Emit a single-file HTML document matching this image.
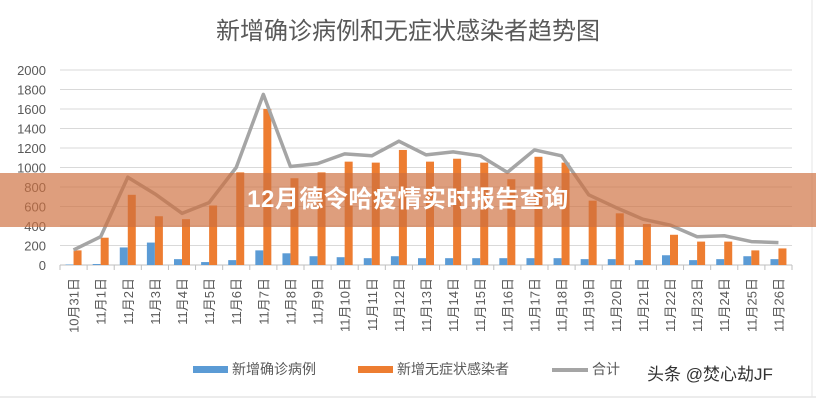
<!DOCTYPE html>
<html><head><meta charset="utf-8"><style>
html,body{margin:0;padding:0;background:#fff;}
body{width:816px;height:400px;overflow:hidden;position:relative;font-family:"Liberation Sans","Noto Sans CJK SC",sans-serif;}
#banner{position:absolute;left:0;top:173px;width:816px;height:54px;background:rgba(206,112,64,0.68);color:#fff;font-weight:bold;font-size:24px;text-align:center;line-height:54px;letter-spacing:0.5px;}
</style></head><body>
<svg id="chart" width="816" height="400" style="position:absolute;left:0;top:0" font-family="Liberation Sans, Noto Sans CJK SC, sans-serif">
<line x1="0" y1="397" x2="816" y2="397" stroke="#d9d9d9"/>
<line x1="812" y1="0" x2="812" y2="397" stroke="#e6e6e6"/>
<text x="408" y="39" text-anchor="middle" font-size="24" fill="#595959">新增确诊病例和无症状感染者趋势图</text>
<g id="grid"></g><g id="bars"></g><g id="line"></g><g id="xlabels"></g><g id="ylabels"></g>
<g>
<rect x="193" y="366" width="35" height="7" fill="#5b9bd5"/>
<text x="232" y="374" font-size="14" fill="#595959">新增确诊病例</text>
<rect x="358" y="366" width="35" height="7" fill="#ed7d31"/>
<text x="397" y="374" font-size="14" fill="#595959">新增无症状感染者</text>
<line x1="552" y1="370" x2="588" y2="370" stroke="#a5a5a5" stroke-width="4"/>
<text x="592" y="374" font-size="14" fill="#595959">合计</text>
</g>
<text x="647" y="380" font-size="17" fill="#333">头条 @焚心劫JF</text>
</svg>
<div id="banner">12月德令哈疫情实时报告查询</div>
<script>
const categories=["10月31日","11月1日","11月2日","11月3日","11月4日","11月5日","11月6日","11月7日","11月8日","11月9日","11月10日","11月11日","11月12日","11月13日","11月14日","11月15日","11月16日","11月17日","11月18日","11月19日","11月20日","11月21日","11月22日","11月23日","11月24日","11月25日","11月26日"];
const confirmed=[5,10,180,230,60,30,50,150,120,90,80,70,90,70,70,70,70,70,70,60,60,50,100,50,60,90,60];
const asymptomatic=[150,280,720,500,470,610,950,1600,890,950,1060,1050,1180,1060,1090,1050,880,1110,1050,660,530,420,310,240,240,150,170];
const yTicks=[0,200,400,600,800,1000,1200,1400,1600,1800,2000];
const NS="http://www.w3.org/2000/svg";
const x0=60,x1=792,y0=265,y1=70,yMax=2000;
const bw=(x1-x0)/categories.length;
function yS(v){return y0-(v/yMax)*(y0-y1);}
function xC(i){return x0+bw*(i+0.5);}
function mk(tag,attrs,parent){const e=document.createElementNS(NS,tag);for(const k in attrs)e.setAttribute(k,attrs[k]);document.getElementById(parent).appendChild(e);return e;}
yTicks.forEach(t=>{
 const g=mk('line',{x1:x0,x2:x1,y1:yS(t),y2:yS(t),stroke:t===0?'#bfbfbf':'#d9d9d9'},'grid');
 
 
 const l=mk('text',{x:46,y:yS(t)+5,'text-anchor':'end','font-size':13,fill:'#595959'},'ylabels');
 l.textContent=t;
 
 
});
for(let i=0;i<=categories.length;i++){
 const tk=mk('line',{x1:x0+bw*i,x2:x0+bw*i,y1:y0,y2:y0+5,stroke:'#bfbfbf'},'grid');
 
 
}
const w=8;
categories.forEach((c,i)=>{
 const cx=xC(i);
 const b=mk('rect',{x:cx-w,y:yS(confirmed[i]),width:w,height:y0-yS(confirmed[i]),fill:'#5b9bd5'},'bars');
 
 
 const o=mk('rect',{x:cx,y:yS(asymptomatic[i]),width:w,height:y0-yS(asymptomatic[i]),fill:'#ed7d31'},'bars');
 
 
 const t=mk('text',{x:0,y:0,transform:`translate(${cx+5},278) rotate(-90)`,'text-anchor':'end','font-size':13,fill:'#595959'},'xlabels');
 t.textContent=c;
 
 
});
const pts=categories.map((c,i)=>xC(i)+','+yS(confirmed[i]+asymptomatic[i])).join(' ');
const pl=mk('polyline',{points:pts,fill:'none',stroke:'#a5a5a5','stroke-width':3.5,'stroke-linejoin':'round'},'line');


</script>
</body></html>
